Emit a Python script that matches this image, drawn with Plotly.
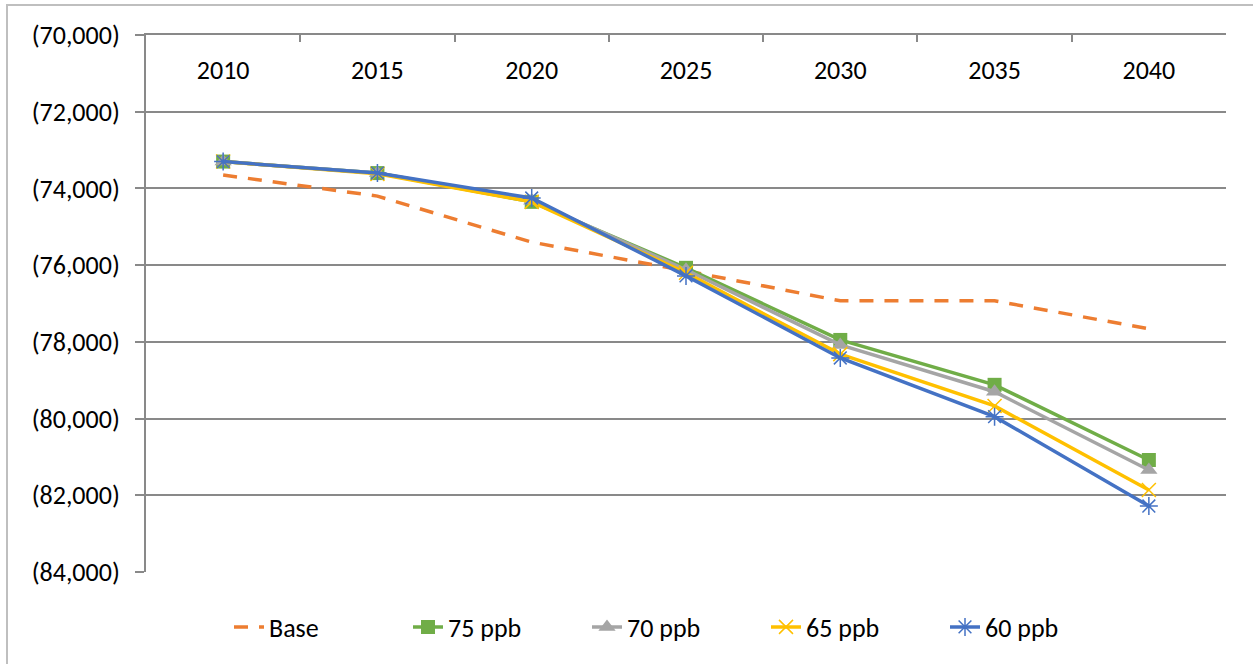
import plotly.graph_objects as go

years = ["2010", "2015", "2020", "2025", "2030", "2035", "2040"]
base = [-73650, -74200, -75400, -76150, -76930, -76930, -77660]
ppb75 = [-73300, -73600, -74350, -76070, -77950, -79120, -81080]
ppb70 = [-73300, -73600, -74320, -76120, -78080, -79300, -81340]
ppb65 = [-73300, -73620, -74350, -76200, -78320, -79670, -81860]
ppb60 = [-73300, -73600, -74250, -76280, -78420, -79950, -82280]
y_tickvals = [-70000, -72000, -74000, -76000, -78000, -80000, -82000, -84000]
y_ticktext = ["(70,000)", "(72,000)", "(74,000)", "(76,000)", "(78,000)", "(80,000)", "(82,000)", "(84,000)"]

FONT = "Carlito, Calibri, Lato, sans-serif"
FS = 26
GRID = "#898989"

fig = go.Figure()
# invisible carrier so the top frame axis (x2) knows the categories
fig.add_trace(go.Scatter(x=years, y=base, xaxis="x2", mode="lines", opacity=0,
                         showlegend=False, hoverinfo="skip", line=dict(width=0)))
fig.add_trace(go.Scatter(x=years, y=base, name="Base", mode="lines",
                         line=dict(color="#ED7D31", width=3.5, dash="14px,11px")))
fig.add_trace(go.Scatter(x=years, y=ppb75, name="75 ppb", mode="lines+markers",
                         line=dict(color="#70AD47", width=3.5),
                         marker=dict(symbol="square", size=14, color="#70AD47")))
fig.add_trace(go.Scatter(x=years, y=ppb70, name="70 ppb", mode="lines+markers",
                         line=dict(color="#A5A5A5", width=3.5),
                         marker=dict(symbol="triangle-up", size=15, color="#A5A5A5")))
fig.add_trace(go.Scatter(x=years, y=ppb65, name="65 ppb", mode="lines+markers",
                         line=dict(color="#FFC000", width=3.5),
                         marker=dict(symbol="x-thin-open", size=14, color="#FFC000",
                                     line=dict(width=1.5, color="#FFC000"))))
fig.add_trace(go.Scatter(x=years, y=ppb60, name="60 ppb", mode="lines+markers",
                         line=dict(color="#4472C4", width=3.5),
                         marker=dict(symbol="asterisk-open", size=15, color="#4472C4",
                                     line=dict(width=1.5, color="#4472C4"))))

fig.update_layout(
    width=1253, height=664,
    margin=dict(l=146, r=27, t=35, b=92, autoexpand=False),
    paper_bgcolor="white", plot_bgcolor="white",
    font=dict(family=FONT, size=FS, color="black"),
    showlegend=True,
    legend=dict(orientation="h", xref="container", x=229 / 1253, xanchor="left",
                yref="container", y=1 - 627 / 664, yanchor="middle",
                font=dict(family=FONT, size=FS, color="black"),
                entrywidth=134, entrywidthmode="pixels"),
    # category labels sit just under the top frame line, inside the plot area
    xaxis=dict(type="category", range=[-0.5, 6.5], side="bottom", anchor="free",
               position=(572 - 52) / 537,
               showline=False, showgrid=False, ticks="", zeroline=False,
               tickfont=dict(family=FONT, size=FS, color="black"), automargin=False),
    # top frame line with inside tick marks between categories
    xaxis2=dict(type="category", overlaying="x", matches="x", side="top", anchor="y",
                showline=True, linecolor=GRID, linewidth=2, showgrid=False,
                ticks="inside", ticklen=7, tickwidth=2, tickcolor=GRID,
                tickson="boundaries", showticklabels=False, zeroline=False,
                automargin=False),
    yaxis=dict(range=[-84000, -70000], tickvals=y_tickvals, ticktext=y_ticktext,
               showline=True, linecolor=GRID, linewidth=2,
               showgrid=True, gridcolor=GRID, gridwidth=2,
               ticks="outside", ticklen=9, tickwidth=2, tickcolor=GRID,
               ticklabelstandoff=10, automargin=False, zeroline=False,
               tickfont=dict(family=FONT, size=FS, color="black")),
    shapes=[dict(type="rect", xref="paper", yref="paper",
                 x0=(7 - 146) / 1080, x1=1.2, y0=-0.4, y1=(572 - 5) / 537,
                 line=dict(color="#BFBFBF", width=2), fillcolor="rgba(0,0,0,0)",
                 layer="below")],
)

fig.write_html("out.html", config={"displayModeBar": False},
               post_script="document.body.style.margin='0';document.body.style.padding='0';")
